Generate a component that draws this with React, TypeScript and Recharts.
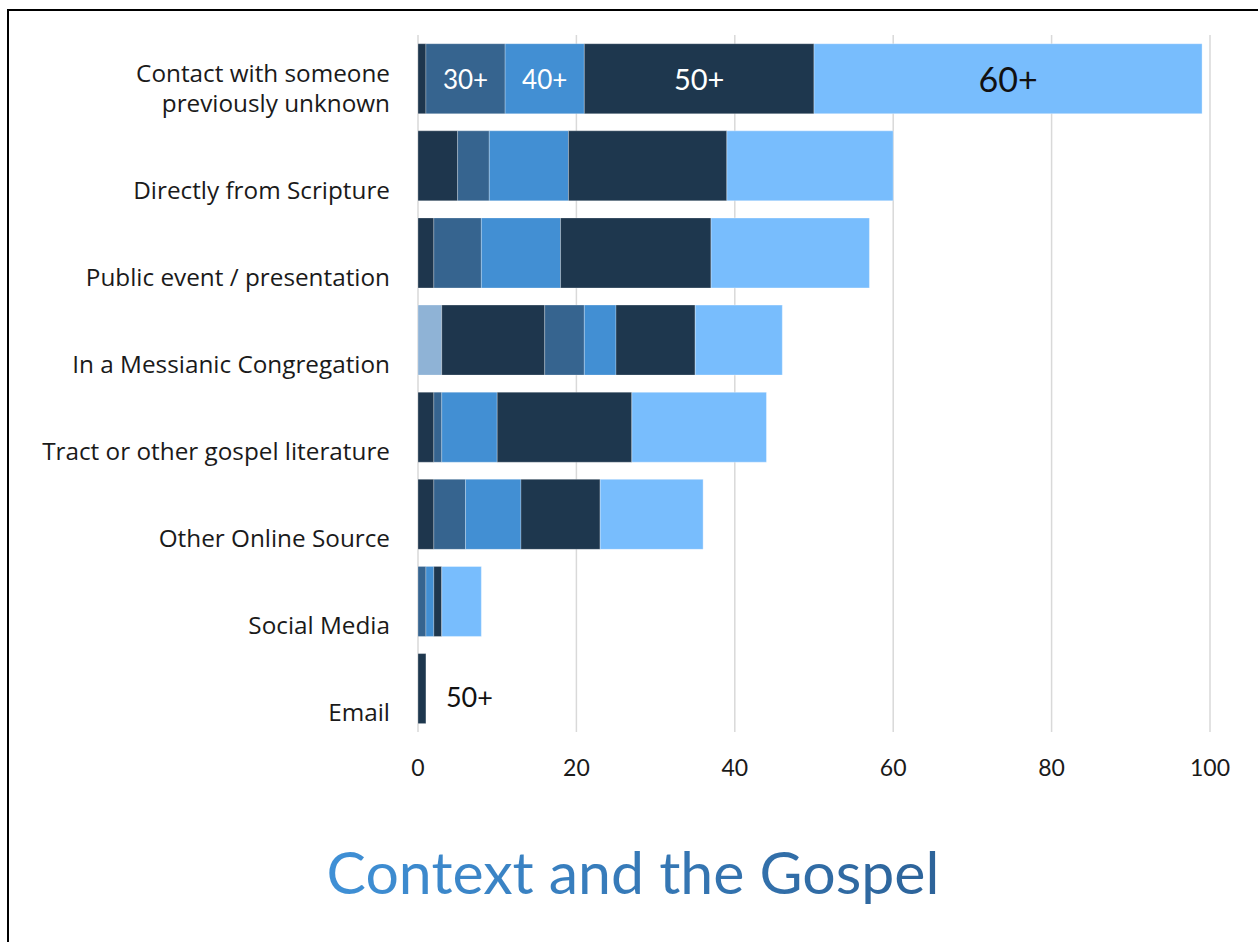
import React from "react";
import {
  BarChart,
  Bar,
  XAxis,
  YAxis,
  CartesianGrid,
  LabelList,
} from "recharts";

// Sources (bottom row last)
const categories = [
  "Contact with someone\npreviously unknown",
  "Directly from Scripture",
  "Public event / presentation",
  "In a Messianic Congregation",
  "Tract or other gospel literature",
  "Other Online Source",
  "Social Media",
  "Email",
];

// age-group counts, stacked left to right
const under20 = [0, 0, 0, 3, 0, 0, 0, 0];
const age20 = [1, 5, 2, 13, 2, 2, 0, 0];
const age30 = [10, 4, 6, 5, 1, 4, 1, 0];
const age40 = [10, 10, 10, 4, 7, 7, 1, 0];
const age50 = [29, 20, 19, 10, 17, 10, 1, 1];
const age60 = [49, 21, 20, 11, 17, 13, 5, 0];

// labels drawn on the segments
const label30 = ["30+", null, null, null, null, null, null, null];
const label40 = ["40+", null, null, null, null, null, null, null];
const label50 = ["50+", null, null, null, null, null, null, null];
const label50Out = [null, null, null, null, null, null, null, "50+"];
const label60 = ["60+", null, null, null, null, null, null, null];

const xTicks = [0, 20, 40, 60, 80, 100];

const FONT = "Lato, 'Open Sans', sans-serif";
const LABEL_FONT = "'Open Sans', Lato, sans-serif";

const data = categories.map((name, i) => ({
  name,
  under20: under20[i],
  age20: age20[i],
  age30: age30[i],
  age40: age40[i],
  age50: age50[i],
  age60: age60[i],
  label30: label30[i],
  label40: label40[i],
  label50: label50[i],
  label50Out: label50Out[i],
  label60: label60[i],
}));

function CategoryTick(props: any) {
  const { x, y, payload } = props;
  const lines = String(payload.value).split("\n");
  const n = lines.length;
  return (
    <g>
      {lines.map((ln, i) => (
        <text
          key={i}
          x={x}
          y={y + 33 - (n - 1 - i) * 30}
          textAnchor="end"
          fontFamily={LABEL_FONT}
          fontSize={24.3}
          fill="#1a1a1a"
        >
          {ln}
        </text>
      ))}
    </g>
  );
}

function segLabel(color: string, size: number, outside = false) {
  return (props: any) => {
    const { x, y, width, height, value } = props;
    if (value === null || value === undefined || value === "") return null;
    const cx = outside ? x + width + 20 : x + width / 2;
    return (
      <text
        x={cx}
        y={y + height / 2 + (outside ? 8 : 0)}
        textAnchor={outside ? "start" : "middle"}
        dominantBaseline="central"
        fontFamily={FONT}
        fontSize={size}
        fill={color}
      >
        {value}
      </text>
    );
  };
}

export default function App() {
  return (
    <div
      style={{
        position: "absolute",
        left: 0,
        top: 0,
        width: 1258,
        height: 942,
        overflow: "hidden",
        background: "#fff",
      }}
    >
      <div
        style={{
          position: "absolute",
          left: 7,
          top: 9,
          width: 1249,
          height: 960,
          border: "2px solid #000",
        }}
      />
      <div style={{ position: "absolute", left: 0, top: 0 }}>
        <BarChart
          width={1258}
          height={800}
          data={data}
          layout="vertical"
          margin={{ top: 35, right: 48, left: 0, bottom: 8 }}
          barCategoryGap="10%"
        >
          <CartesianGrid horizontal={false} stroke="#d9d9d9" strokeWidth={1.5} />
          <XAxis
            type="number"
            domain={[0, 100]}
            ticks={xTicks}
            axisLine={false}
            tickLine={false}
            tickSize={0}
            tickMargin={28}
            height={60}
            tick={{ fontFamily: FONT, fontSize: 23, fill: "#1a1a1a" }}
          />
          <YAxis
            type="category"
            dataKey="name"
            width={418}
            axisLine={false}
            tickLine={false}
            tickSize={0}
            tickMargin={28}
            interval={0}
            tick={<CategoryTick />}
          />
          <Bar dataKey="under20" stackId="a" fill="#8fb3d6" stroke="rgba(255,255,255,0.25)" isAnimationActive={false} />
          <Bar dataKey="age20" stackId="a" fill="#1e364d" stroke="rgba(255,255,255,0.25)" isAnimationActive={false} />
          <Bar dataKey="age30" stackId="a" fill="#36648f" stroke="rgba(255,255,255,0.25)" isAnimationActive={false}>
            <LabelList dataKey="label30" content={segLabel("#ffffff", 26)} />
          </Bar>
          <Bar dataKey="age40" stackId="a" fill="#428fd3" stroke="rgba(255,255,255,0.25)" isAnimationActive={false}>
            <LabelList dataKey="label40" content={segLabel("#ffffff", 26)} />
          </Bar>
          <Bar dataKey="age50" stackId="a" fill="#1e374e" stroke="rgba(255,255,255,0.25)" isAnimationActive={false}>
            <LabelList dataKey="label50" content={segLabel("#ffffff", 29)} />
            <LabelList dataKey="label50Out" content={segLabel("#111111", 27, true)} />
          </Bar>
          <Bar dataKey="age60" stackId="a" fill="#78bdfd" stroke="rgba(255,255,255,0.35)" isAnimationActive={false}>
            <LabelList dataKey="label60" content={segLabel("#111111", 34)} />
          </Bar>
        </BarChart>
      </div>
      <div
        style={{
          position: "absolute",
          left: 0,
          top: 832,
          width: 1266,
          textAlign: "center",
          fontFamily: FONT,
          fontSize: 59,
          lineHeight: "80px",
        }}
      >
        <span
          style={{
            background: "linear-gradient(90deg, #3f90d6, #2d6399)",
            WebkitBackgroundClip: "text",
            backgroundClip: "text",
            color: "transparent",
          }}
        >
          Context and the Gospel
        </span>
      </div>
    </div>
  );
}
